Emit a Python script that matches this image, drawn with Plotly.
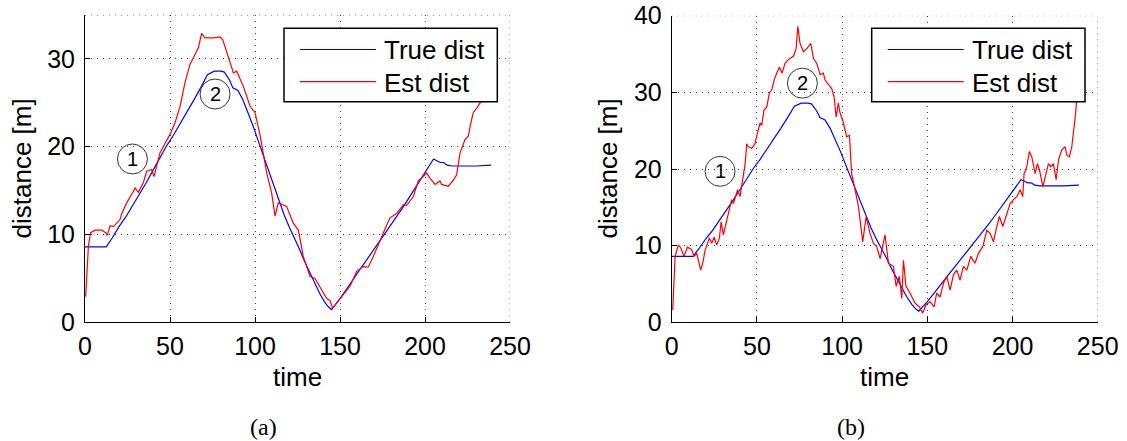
import plotly.graph_objects as go

# ---- data -------------------------------------------------------------
# true distance (same trajectory in both panels)
true_t = [0, 1, 12.5, 16, 20, 24, 28, 32, 36, 40, 44, 48, 52, 56, 60, 64, 68, 72,
          76, 80, 82, 85, 87, 90, 93, 96, 99, 102, 105, 108, 111, 114, 117, 120,
          123, 126, 129, 132, 135, 138, 141, 143, 145, 147, 150, 154, 158, 162,
          166, 170, 174, 178, 182, 186, 190, 194, 198, 202, 205, 207, 209, 211,
          213, 216, 220, 230, 239]
true_d = [8.6, 8.6, 8.6, 9.6, 10.9, 12.0, 13.3, 14.5, 15.9, 17.3, 18.7, 20.1, 21.3,
          22.6, 23.9, 25.3, 26.7, 28.2, 28.6, 28.6, 28.5, 27.6, 26.7, 26.4, 25.3,
          23.9, 22.3, 20.6, 18.9, 17.2, 15.6, 13.9, 12.3, 10.9, 9.7, 8.4, 7.0, 5.7,
          4.4, 3.3, 2.3, 1.8, 1.45, 1.9, 2.7, 3.8, 5.0, 6.1, 7.2, 8.3, 9.4, 10.5,
          11.6, 12.8, 14.0, 15.2, 16.4, 17.6, 18.6, 18.4, 18.2, 18.2, 17.9, 17.8,
          17.8, 17.8, 17.9]

# estimated distance, panel (a)
est_a_t = [0.4, 2.0, 3.3, 5.9, 9.8, 12.2, 13.1, 14.7, 16.7, 18.6, 20.6, 21.6, 24.5,
           28.4, 29.4, 31.4, 34.3, 36.3, 39.2, 40.6, 44.1, 47.1, 50.0, 52.9, 55.9,
           58.8, 61.8, 63.7, 66.7, 68.6, 70.6, 75.5, 79.4, 81.0, 84.3, 87.3, 89.2,
           93.1, 97.1, 100.0, 102.9, 106.9, 109.8, 111.8, 113.7, 118.6, 122.5,
           125.5, 128.4, 132.4, 135.3, 138.2, 142.2, 144.1, 145.7, 150.0, 155.9,
           159.8, 163.7, 166.7, 169.6, 175.5, 179.4, 183.3, 187.3, 189.0, 193.1,
           196.1, 199.0, 201.0, 203.0, 205.9, 208.8, 209.8, 213.7, 216.7, 218.6,
           219.6, 220.6, 223.5, 225.5, 226.5, 228.4, 230.4, 232.4, 234.3, 239.0]
est_a_d = [2.9, 8.7, 10.2, 10.5, 10.5, 10.2, 9.9, 11.0, 10.9, 11.3, 11.7, 12.4, 13.6,
           14.9, 15.3, 14.8, 15.9, 17.2, 17.4, 16.6, 19.3, 20.4, 21.4, 22.7, 24.6,
           27.3, 29.4, 30.1, 31.3, 32.9, 32.4, 32.4, 32.5, 32.2, 30.3, 28.4, 28.6,
           26.9, 24.6, 23.9, 21.4, 17.0, 14.7, 12.1, 13.6, 13.2, 11.3, 10.5, 7.5,
           5.2, 5.0, 4.1, 2.7, 2.5, 1.6, 2.7, 4.1, 5.8, 6.35, 6.3, 7.5, 10.2, 11.9,
           12.4, 13.4, 13.3, 14.3, 16.1, 16.6, 17.0, 16.4, 15.7, 16.1, 15.7, 15.5,
           16.2, 16.8, 18.2, 19.3, 20.8, 21.2, 22.3, 23.9, 24.4, 25.0, 25.4, 26.5]

# estimated distance, panel (b)
est_b_t = [0.6, 2.0, 3.9, 5.3, 7.2, 9.2, 11.7, 13.1, 14.7, 15.7, 17.0, 18.2, 19.6,
           21.0, 22.1, 23.5, 24.9, 26.4, 28.0, 29.0, 30.3, 32.3, 33.9, 35.2, 36.2,
           37.8, 38.7, 40.1, 41.7, 43.1, 44.0, 45.0, 47.0, 48.9, 50.3, 51.9, 52.8,
           54.2, 55.8, 57.3, 58.7, 60.1, 61.6, 63.2, 64.8, 66.5, 69.1, 71.4, 73.0,
           74.0, 75.3, 77.3, 79.3, 81.6, 83.2, 85.1, 87.1, 89.0, 90.0, 92.0, 93.9,
           95.3, 96.5, 97.8, 98.8, 100.8, 102.7, 104.3, 105.6, 107.6, 109.6, 112.1,
           114.1, 116.4, 118.4, 120.3, 122.3, 125.2, 127.2, 130.1, 131.7, 133.6,
           135.0, 136.0, 137.5, 139.9, 142.8, 145.4, 147.3, 149.3, 151.6, 154.0,
           155.5, 157.5, 159.5, 161.4, 163.4, 165.3, 167.3, 169.2, 171.2, 173.2,
           175.5, 178.0, 180.0, 182.6, 184.9, 186.9, 188.8, 190.8, 192.3, 194.3,
           196.6, 198.6, 200.6, 202.5, 204.5, 206.0, 206.8, 208.4, 209.9, 211.3,
           213.3, 214.6, 215.8, 217.8, 219.7, 221.1, 222.5, 224.0, 225.6, 227.0,
           228.9, 230.9, 231.9, 233.4, 234.8, 235.8, 236.8, 237.7, 238.3, 239.0]
est_b_d = [1.6, 8.6, 10.1, 9.7, 8.6, 9.8, 9.5, 8.6, 9.0, 7.9, 6.8, 7.7, 9.4, 10.3,
           11.0, 10.3, 11.1, 10.1, 11.0, 13.1, 11.4, 13.3, 14.7, 16.0, 15.5, 16.8,
           17.3, 16.4, 18.6, 20.7, 23.3, 22.9, 22.7, 23.3, 24.7, 26.0, 25.7, 27.7,
           28.1, 29.9, 30.3, 31.6, 32.5, 33.3, 32.5, 33.8, 34.4, 34.7, 35.7, 38.6,
           36.4, 35.3, 35.7, 36.4, 34.4, 33.8, 32.3, 32.5, 31.6, 31.0, 30.5, 29.4,
           26.8, 28.6, 27.3, 26.0, 24.2, 24.4, 19.4, 17.3, 15.1, 10.5, 13.8, 11.6,
           10.3, 9.9, 8.3, 11.4, 7.7, 7.3, 4.7, 6.0, 3.1, 8.1, 4.7, 3.8, 2.5, 2.0,
           1.2, 2.3, 2.7, 2.0, 3.8, 3.3, 5.1, 6.0, 4.2, 6.2, 6.8, 5.5, 7.3, 6.8,
           8.6, 7.7, 9.0, 9.9, 12.0, 11.6, 10.5, 12.5, 13.8, 12.5, 14.2, 15.5, 16.0,
           16.4, 17.3, 16.4, 19.4, 20.3, 22.3, 21.6, 19.4, 20.7, 19.9, 17.7, 19.4,
           20.7, 20.3, 20.7, 18.6, 21.2, 22.5, 22.9, 21.8, 21.6, 22.9, 24.7, 26.8,
           29.0, 31.6, 34.0]

x_ticks = [0, 50, 100, 150, 200, 250]
y_ticks_a = [0, 10, 20, 30]
y_ticks_b = [0, 10, 20, 30, 40]
y_max_a, y_max_b = 35, 40
series_names = ["True dist", "Est dist"]
x_label, y_label = "time", "distance [m]"
panel_labels = ["(a)", "(b)"]

# circled markers: (label, time, distance) per panel
marks_a = [("1", 27.9, 18.6), ("2", 76.5, 26.0)]
marks_b = [("1", 28.4, 19.7), ("2", 76.7, 31.2)]

# ---- layout helpers ---------------------------------------------------
W, H = 1127, 441
SANS = "Liberation Sans, Arial, Helvetica, sans-serif"
BLUE, RED = "#0000ff", "#ff0000"


def px(x):
    return x / W


def py(y):
    return 1 - y / H


fig = go.Figure()

panels = [
    dict(xa="x", ya="y", est_t=est_a_t, est_d=est_a_d),
    dict(xa="x2", ya="y2", est_t=est_b_t, est_d=est_b_d),
]
for p in panels:
    fig.add_trace(go.Scatter(x=true_t, y=true_d, mode="lines", name=series_names[0],
                             line=dict(color=BLUE, width=1.2),
                             xaxis=p["xa"], yaxis=p["ya"], showlegend=False))
    fig.add_trace(go.Scatter(x=p["est_t"], y=p["est_d"], mode="lines",
                             name=series_names[1],
                             line=dict(color=RED, width=1.2),
                             xaxis=p["xa"], yaxis=p["ya"], showlegend=False))

axis_common = dict(
    showline=True, linecolor="black", linewidth=1,
    ticks="inside", ticklen=5, tickcolor="black", tickwidth=1,
    showgrid=True, gridcolor="#333333", gridwidth=1, griddash="1px,5px",
    zeroline=False, mirror=False, automargin=False,
    tickfont=dict(family=SANS, size=25, color="black"),
)

fig.update_layout(
    width=W, height=H, autosize=False,
    margin=dict(l=0, r=0, t=0, b=0, pad=0, autoexpand=False),
    paper_bgcolor="white", plot_bgcolor="white",
    showlegend=False,
    xaxis=dict(domain=[px(85), px(510)], range=[0, 250], tickvals=x_ticks,
               anchor="y", ticklabelstandoff=2, **axis_common),
    yaxis=dict(domain=[py(322.3), py(15)], range=[0, y_max_a], tickvals=y_ticks_a,
               anchor="x", ticklabelstandoff=4, **axis_common),
    xaxis2=dict(domain=[px(671.7), px(1097.7)], range=[0, 250], tickvals=x_ticks,
                anchor="y2", ticklabelstandoff=2, **axis_common),
    yaxis2=dict(domain=[py(322.3), py(15.7)], range=[0, y_max_b], tickvals=y_ticks_b,
                anchor="x2", ticklabelstandoff=4, **axis_common),
)

shapes = []
annotations = []

# dotted top and right frame edges
for xa, ya, ymax in (("x", "y", y_max_a), ("x2", "y2", y_max_b)):
    dotted = dict(color="#333333", width=1, dash="1px,5px")
    shapes.append(dict(type="line", xref=xa, yref=ya, x0=0, x1=250, y0=ymax, y1=ymax,
                       line=dotted, layer="below"))
    shapes.append(dict(type="line", xref=xa, yref=ya, x0=250, x1=250, y0=0, y1=ymax,
                       line=dotted, layer="below"))

# circled step markers
for xa, ya, marks in (("x", "y", marks_a), ("x2", "y2", marks_b)):
    for label, t, d in marks:
        shapes.append(dict(type="circle", xref=xa, yref=ya,
                           xsizemode="pixel", ysizemode="pixel",
                           xanchor=t, yanchor=d, x0=-15, x1=15, y0=-15, y1=15,
                           line=dict(color="#333333", width=1), layer="above"))
        annotations.append(dict(xref=xa, yref=ya, x=t, y=d, text=label,
                                showarrow=False, xanchor="center", yanchor="middle",
                                font=dict(family=SANS, size=20, color="black")))

# legend boxes
for x0, x1 in ((284, 497.3), (871.7, 1085)):
    shapes.append(dict(type="rect", xref="paper", yref="paper",
                       x0=px(x0), x1=px(x1), y0=py(101.7), y1=py(28.3),
                       fillcolor="white", line=dict(color="black", width=1.5),
                       layer="above"))
    for color, yy, name in ((BLUE, 49.5, series_names[0]), (RED, 81.7, series_names[1])):
        shapes.append(dict(type="line", xref="paper", yref="paper",
                           x0=px(x0 + 16), x1=px(x0 + 92), y0=py(yy), y1=py(yy),
                           line=dict(color=color, width=1.2), layer="above"))
        annotations.append(dict(xref="paper", yref="paper", x=px(x0 + 98), y=py(yy + 1),
                                text=name, showarrow=False, xanchor="left",
                                yanchor="middle",
                                font=dict(family=SANS, size=26, color="black")))

# axis titles
for cx, ylab_x in (((85 + 510) / 2, 22), ((671.7 + 1097.7) / 2, 608)):
    annotations.append(dict(xref="paper", yref="paper", x=px(cx), y=py(377),
                            text=x_label, showarrow=False, xanchor="center",
                            yanchor="middle",
                            font=dict(family=SANS, size=26, color="black")))
    annotations.append(dict(xref="paper", yref="paper", x=px(ylab_x), y=py(168.5),
                            text=y_label, showarrow=False, textangle=-90,
                            xanchor="center", yanchor="middle",
                            font=dict(family=SANS, size=26, color="black")))

# sub-figure captions
for cx, lab in ((263, panel_labels[0]), (851, panel_labels[1])):
    annotations.append(dict(xref="paper", yref="paper", x=px(cx), y=py(427),
                            text=lab, showarrow=False, xanchor="center",
                            yanchor="middle",
                            font=dict(family="Liberation Serif, DejaVu Serif, serif",
                                      size=24, color="black")))

fig.update_layout(shapes=shapes, annotations=annotations)
fig.write_html("out.html")
